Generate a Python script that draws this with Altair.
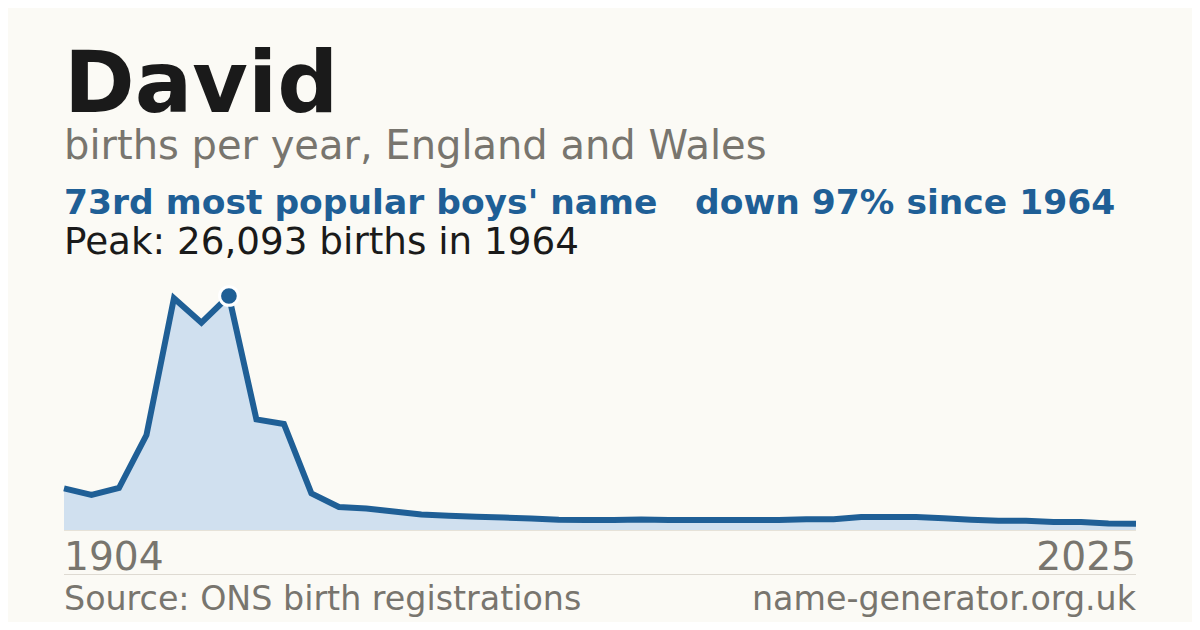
import altair as alt
import pandas as pd

# ---- data ----
years = [1904, 1914, 1924, 1934, 1944, 1954, 1964, 1974, 1984, 1994,
         1996, 1997, 1998, 1999, 2000, 2001, 2002, 2003, 2004, 2005,
         2006, 2007, 2008, 2009, 2010, 2011, 2012, 2013, 2014, 2015,
         2016, 2017, 2018, 2019, 2020, 2021, 2022, 2023, 2024, 2025]
births = [4650, 3900, 4680, 10590, 25840, 23110, 26093, 12340, 11820, 4090,
          2565, 2400, 2065, 1730, 1585, 1470, 1395, 1280, 1150, 1115,
          1115, 1170, 1115, 1115, 1115, 1115, 1115, 1190, 1190, 1450,
          1450, 1450, 1305, 1140, 1040, 1025, 890, 890, 725, 700]
peak_year = 1964
peak_value = 26093

title_text = "David"
subtitle_text = "births per year, England and Wales"
rank_text = "73rd most popular boys' name"
change_text = "down 97% since 1964"
peak_text = "Peak: 26,093 births in 1964"
start_label = "1904"
end_label = "2025"
source_text = "Source: ONS birth registrations"
site_text = "name-generator.org.uk"

BLUE = "#1f5f96"
FILL = "#d0e0ef"
GRAY = "#78756e"
DARK = "#1a1a1a"
BG = "#fbfaf5"
FONT = "DejaVu Sans"

df = pd.DataFrame({"year": years, "births": births})

x_enc = alt.X("year:O", axis=None,
              scale=alt.Scale(type="point", range=[56, 1128], padding=0))
y_enc = alt.Y("births:Q", axis=None,
              scale=alt.Scale(domain=[0, peak_value], range=[522, 288], nice=False, zero=True))

base = alt.Chart(df)
area = base.mark_area(color=FILL, opacity=1).encode(x=x_enc, y=y_enc)
line = base.mark_line(color=BLUE, strokeWidth=6, strokeJoin="miter").encode(x=x_enc, y=y_enc)
peak = base.mark_point(filled=True, fill=BLUE, stroke="white", strokeWidth=3,
                       size=350, opacity=1, shape="circle").encode(
    x=x_enc, y=y_enc).transform_filter(alt.datum.year == peak_year)


def one(t):
    return alt.Chart(pd.DataFrame({"t": [t]}))


def text(t, x, y, size, color, weight="normal", align="left"):
    return one(t).mark_text(align=align, baseline="alphabetic", font=FONT,
                            fontSize=size, fontWeight=weight, color=color).encode(
        x=alt.value(x), y=alt.value(y), text="t:N")


base_rule = one("r").mark_rule(color="#e6e2d8", strokeWidth=1).encode(
    x=alt.value(56), x2=alt.value(1128), y=alt.value(522.5))
sep_rule = one("r").mark_rule(color="#dedad2", strokeWidth=1).encode(
    x=alt.value(56), x2=alt.value(1128), y=alt.value(566.5))

layers = [
    base_rule,
    area,
    line,
    peak,
    text(title_text, 56, 104, 85.3, DARK, "bold"),
    text(subtitle_text, 56, 151, 40, GRAY),
    text(rank_text, 56, 206, 34.5, BLUE, "bold"),
    text(change_text, 687, 206, 34.5, BLUE, "bold"),
    text(peak_text, 56, 246, 37.3, DARK),
    text(start_label, 56, 562, 39.2, GRAY),
    text(end_label, 1128, 562, 39.2, GRAY, align="right"),
    sep_rule,
    text(source_text, 56, 602, 33.3, GRAY),
    text(site_text, 1128, 602, 33.3, GRAY, align="right"),
]

chart = alt.layer(*layers).properties(
    width=1184, height=614,
    autosize=alt.AutoSizeParams(type="none"),
    padding=0,
    background=BG,
).configure_view(stroke=None)

chart.save("out.html", embed_options={"renderer": "svg", "actions": False})
